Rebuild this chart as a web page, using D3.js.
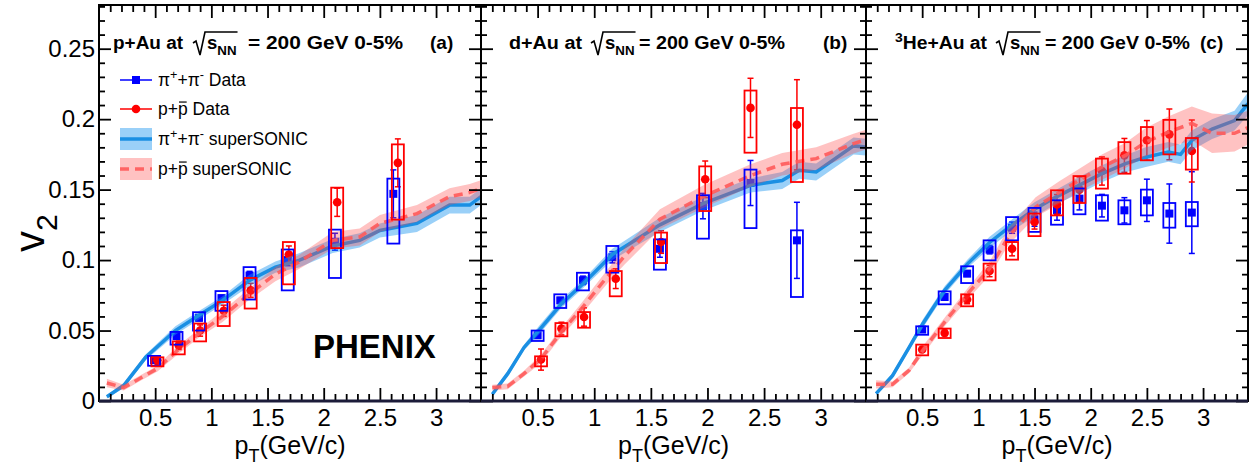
<!DOCTYPE html>
<html>
<head>
<meta charset="utf-8">
<script src="https://cdn.jsdelivr.net/npm/d3@7"></script>
<style>
  body { margin: 0; background: #fff; }
  text { font-family: "Liberation Sans", Arial, Helvetica, sans-serif; fill: #000; }
</style>
</head>
<body>
<div id="chart"></div>
<script>
// ---- data ----
const panelSystems = ["p+Au at", "d+Au at", "He+Au at"];
const panelTags = ["(a)", "(b)", "(c)"];
const xTickLabels = ["0.5", "1", "1.5", "2", "2.5", "3"];
const yTickLabels = ["0", "0.05", "0.1", "0.15", "0.2", "0.25"];

// (a) p+Au
const aPiPt = [0.49, 0.69, 0.89, 1.09, 1.34, 1.68, 2.10, 2.62];
const aPiV2 = [0.029, 0.046, 0.059, 0.073, 0.089, 0.100, 0.113, 0.147];
const aPiStat = [0.002, 0.002, 0.002, 0.002, 0.003, 0.004, 0.006, 0.017];
const aPiSysLo = [0.025, 0.040, 0.050, 0.064, 0.072, 0.0785, 0.0873, 0.1117];
const aPiSysHi = [0.032, 0.049, 0.063, 0.078, 0.095, 0.1075, 0.1216, 0.1578];
const aPPt = [0.52, 0.71, 0.90, 1.11, 1.35, 1.69, 2.12, 2.66];
const aPV2 = [0.029, 0.0395, 0.050, 0.064, 0.0785, 0.104, 0.141, 0.169];
const aPStat = [0.003, 0.003, 0.004, 0.004, 0.005, 0.006, 0.010, 0.017];
const aPSysLo = [0.0246, 0.0331, 0.0423, 0.0532, 0.0656, 0.0828, 0.1085, 0.1287];
const aPSysHi = [0.031, 0.0423, 0.055, 0.0702, 0.0873, 0.1128, 0.1514, 0.1821];
const aThPiPt = [0.07, 0.22, 0.415, 0.68, 0.89, 1.10, 1.34, 1.57, 1.78, 2.08, 2.32, 2.50, 2.83, 3.12, 3.30, 3.40];
const aThPiV2 = [0.003, 0.011, 0.031, 0.050, 0.0608, 0.0714, 0.0856, 0.095, 0.0998, 0.110, 0.114, 0.121, 0.126, 0.139, 0.139, 0.145];
const aThPiErr = [0.001, 0.002, 0.002, 0.003, 0.003, 0.003, 0.004, 0.004, 0.005, 0.005, 0.005, 0.005, 0.006, 0.006, 0.006, 0.006];
const aThPPt = [0.07, 0.22, 0.385, 0.52, 0.70, 0.89, 1.10, 1.34, 1.57, 1.78, 2.08, 2.32, 2.50, 2.83, 3.12, 3.30, 3.40];
const aThPV2 = [0.0128, 0.0095, 0.017, 0.023, 0.036, 0.048, 0.060, 0.076, 0.090, 0.0986, 0.114, 0.1164, 0.126, 0.133, 0.145, 0.148, 0.1507];
const aThPErr = [0.003, 0.002, 0.002, 0.002, 0.003, 0.003, 0.004, 0.004, 0.005, 0.005, 0.006, 0.006, 0.006, 0.006, 0.006, 0.006, 0.006];

// (b) d+Au
const bPiPt = [0.50, 0.70, 0.90, 1.16, 1.58, 1.96, 2.38, 2.79];
const bPiV2 = [0.0466, 0.0714, 0.0856, 0.102, 0.108, 0.1383, 0.1547, 0.114];
const bPiStat = [0.002, 0.002, 0.003, 0.004, 0.006, 0.009, 0.016, 0.027];
const bPiSysLo = [0.0426, 0.066, 0.0785, 0.0911, 0.0932, 0.1152, 0.1227, 0.0738];
const bPiSysHi = [0.050, 0.0757, 0.091, 0.110, 0.1147, 0.146, 0.1642, 0.1211];
const bPPt = [0.53, 0.71, 0.91, 1.19, 1.59, 1.98, 2.38, 2.79];
const bPV2 = [0.0294, 0.0514, 0.0596, 0.0868, 0.1128, 0.1573, 0.208, 0.196];
const bPStat = [0.0075, 0.0045, 0.0065, 0.007, 0.008, 0.013, 0.021, 0.032];
const bPSysLo = [0.0246, 0.0459, 0.052, 0.0743, 0.0979, 0.1348, 0.1762, 0.1554];
const bPSysHi = [0.0317, 0.0553, 0.0631, 0.0922, 0.1195, 0.1665, 0.2203, 0.2079];
const bThPiPt = [0.10, 0.236, 0.38, 0.51, 0.71, 0.90, 1.16, 1.58, 1.96, 2.38, 2.66, 2.81, 2.96, 3.29, 3.42];
const bThPiV2 = [0.0048, 0.0194, 0.038, 0.050, 0.069, 0.083, 0.104, 0.125, 0.140, 0.153, 0.1565, 0.1637, 0.1625, 0.181, 0.180];
const bThPiErr = [0.001, 0.002, 0.002, 0.003, 0.003, 0.003, 0.004, 0.005, 0.005, 0.005, 0.006, 0.006, 0.006, 0.006, 0.006];
const bThPPt = [0.10, 0.236, 0.38, 0.53, 0.71, 0.90, 1.16, 1.27, 1.58, 1.96, 2.38, 2.66, 2.96, 3.29, 3.42];
const bThPV2 = [0.0095, 0.0104, 0.0194, 0.030, 0.049, 0.0667, 0.0927, 0.103, 0.129, 0.145, 0.160, 0.168, 0.172, 0.1826, 0.186];
const bThPErr = [0.002, 0.002, 0.002, 0.003, 0.003, 0.004, 0.005, 0.006, 0.007, 0.008, 0.008, 0.008, 0.008, 0.007, 0.007];

// (c) 3He+Au
const cPiPt = [0.5, 0.7, 0.9, 1.1, 1.3, 1.5, 1.7, 1.9, 2.1, 2.3, 2.5, 2.7, 2.9];
const cPiV2 = [0.0507, 0.0738, 0.0904, 0.1074, 0.123, 0.129, 0.1353, 0.1436, 0.1386, 0.1353, 0.1424, 0.133, 0.1337];
const cPiStat = [0.0015, 0.002, 0.002, 0.003, 0.004, 0.005, 0.007, 0.008, 0.008, 0.009, 0.015, 0.021, 0.029];
const cPiSysLo = [0.047, 0.0686, 0.0837, 0.0998, 0.114, 0.120, 0.1251, 0.1325, 0.128, 0.1254, 0.1317, 0.123, 0.124];
const cPiSysHi = [0.053, 0.0778, 0.0956, 0.114, 0.1305, 0.137, 0.1424, 0.1508, 0.146, 0.1424, 0.150, 0.1405, 0.1412];
const cPPt = [0.5, 0.7, 0.9, 1.1, 1.3, 1.5, 1.7, 1.9, 2.1, 2.3, 2.5, 2.7, 2.9];
const cPV2 = [0.0365, 0.0483, 0.072, 0.0922, 0.108, 0.127, 0.1395, 0.150, 0.1632, 0.1743, 0.185, 0.1892, 0.1774];
const cPStat = [0.0015, 0.002, 0.003, 0.004, 0.005, 0.005, 0.007, 0.009, 0.010, 0.012, 0.014, 0.018, 0.022];
const cPSysLo = [0.0324, 0.0447, 0.0672, 0.0856, 0.1003, 0.117, 0.1317, 0.1405, 0.1507, 0.1613, 0.1708, 0.175, 0.1642];
const cPSysHi = [0.040, 0.0514, 0.0757, 0.0975, 0.1128, 0.133, 0.1495, 0.1596, 0.172, 0.1837, 0.1944, 0.1995, 0.1866];
const cThPiPt = [0.09, 0.236, 0.384, 0.507, 0.70, 0.906, 1.10, 1.275, 1.50, 1.69, 1.895, 2.10, 2.31, 2.49, 2.69, 2.80, 2.90, 3.08, 3.28, 3.40];
const cThPiV2 = [0.0052, 0.018, 0.038, 0.055, 0.0785, 0.0975, 0.1125, 0.1234, 0.136, 0.1447, 0.153, 0.1613, 0.1684, 0.173, 0.1767, 0.175, 0.185, 0.193, 0.199, 0.211];
const cThPiErr = [0.001, 0.002, 0.002, 0.003, 0.003, 0.003, 0.004, 0.004, 0.005, 0.005, 0.006, 0.006, 0.006, 0.007, 0.007, 0.007, 0.007, 0.007, 0.007, 0.008];
const cThPPt = [0.09, 0.236, 0.384, 0.507, 0.70, 0.906, 1.10, 1.27, 1.51, 1.72, 1.895, 2.10, 2.31, 2.49, 2.69, 2.90, 3.08, 3.28, 3.40];
const cThPV2 = [0.0118, 0.0118, 0.0218, 0.036, 0.056, 0.0762, 0.094, 0.117, 0.1376, 0.148, 0.1566, 0.166, 0.1743, 0.1837, 0.1908, 0.197, 0.190, 0.190, 0.194];
const cThPErr = [0.003, 0.002, 0.002, 0.003, 0.003, 0.004, 0.005, 0.006, 0.007, 0.008, 0.008, 0.009, 0.009, 0.010, 0.011, 0.012, 0.014, 0.013, 0.012];

// ---- build tables ----
const zipData = (pt, v, st, lo, hi) => pt.map((x, i) => ({ x, v: v[i], st: st[i], lo: lo[i], hi: hi[i] }));
const zipTh = (pt, v, e) => pt.map((x, i) => ({ x, v: v[i], e: e[i] }));

const panels = [
  { pi: zipData(aPiPt, aPiV2, aPiStat, aPiSysLo, aPiSysHi), p: zipData(aPPt, aPV2, aPStat, aPSysLo, aPSysHi),
    thPi: zipTh(aThPiPt, aThPiV2, aThPiErr), thP: zipTh(aThPPt, aThPV2, aThPErr) },
  { pi: zipData(bPiPt, bPiV2, bPiStat, bPiSysLo, bPiSysHi), p: zipData(bPPt, bPV2, bPStat, bPSysLo, bPSysHi),
    thPi: zipTh(bThPiPt, bThPiV2, bThPiErr), thP: zipTh(bThPPt, bThPV2, bThPErr) },
  { pi: zipData(cPiPt, cPiV2, cPiStat, cPiSysLo, cPiSysHi), p: zipData(cPPt, cPV2, cPStat, cPSysLo, cPSysHi),
    thPi: zipTh(cThPiPt, cThPiV2, cThPiErr), thP: zipTh(cThPPt, cThPV2, cThPErr) }
];

// ---- layout ----
const width = 1250, height = 473;
const panelLeft = [99, 481, 866];
const panelRight = [481, 866, 1248];
const plotTop = 5, plotBottom = 401;
const titleX = [113, 509, 895];
const titleHeadW = [70, 73, 92];
const titleSX = [207, 605, 1010];
const titleTailX = [248, 639, 1045];
const titleTailW = [155, 146, 145];
const tagX = [430, 823, 1200];

const BLUE = "#0000ff", RED = "#ff0000";
const LINE_BLUE = "#1a8fe3";
const BAND_BLUE = "rgba(30,150,240,0.45)";
const BAND_RED = "rgba(255,70,70,0.33)";
const LINE_RED = "rgba(255,90,90,0.9)";

const svg = d3.select("#chart").append("svg")
  .attr("width", width).attr("height", height);

const y = d3.scaleLinear().domain([0, 0.281]).range([plotBottom, plotTop]);

// rich text with sub/superscripts and overlines
function rich(sel, x, y0, segs, size, weight, anchor) {
  const t = sel.append("text").attr("x", x).attr("y", y0)
    .attr("font-size", size).attr("font-weight", weight || "normal")
    .attr("text-anchor", anchor || "start");
  let shift = 0, idx = 0;
  segs.forEach(s => {
    const target = s.sub ? 0.3 * size : s.sup ? -0.4 * size : 0;
    const ts = t.append("tspan").attr("dy", target - shift).text(s.t);
    if (s.sub || s.sup) ts.attr("font-size", size * 0.72);
    if (s.dx) ts.attr("dx", s.dx);
    s.i0 = idx; idx += s.t.length; s.i1 = idx - 1;
    shift = target;
  });
  const node = t.node();
  segs.forEach(s => {
    if (s.over) {
      const xa = node.getStartPositionOfChar(s.i0).x, xb = node.getEndPositionOfChar(s.i1).x;
      sel.append("line").attr("x1", xa + 1).attr("x2", xb - 1)
        .attr("y1", y0 - 0.74 * size).attr("y2", y0 - 0.74 * size)
        .attr("stroke", "#000").attr("stroke-width", 1.2);
    }
  });
  return t;
}

panels.forEach((pd, k) => {
  const x = d3.scaleLinear().domain([0, 3.4]).range([panelLeft[k], panelRight[k]]);
  const g = svg.append("g");

  const clipId = "clip" + k;
  svg.append("clipPath").attr("id", clipId).append("rect")
    .attr("x", panelLeft[k]).attr("y", plotTop)
    .attr("width", panelRight[k] - panelLeft[k]).attr("height", plotBottom - plotTop);
  const plot = g.append("g").attr("clip-path", `url(#${clipId})`);

  // statistical error bars and markers
  [[pd.pi, BLUE, "sq"], [pd.p, RED, "ci"]].forEach(([ds, col, shape]) => {
    const eg = plot.append("g").attr("stroke", col).attr("stroke-width", 1.5);
    ds.forEach(d => {
      const cx = x(d.x);
      eg.append("line").attr("x1", cx).attr("x2", cx).attr("y1", y(d.v - d.st)).attr("y2", y(d.v + d.st));
      [d.v - d.st, d.v + d.st].forEach(vv =>
        eg.append("line").attr("x1", cx - 3).attr("x2", cx + 3).attr("y1", y(vv)).attr("y2", y(vv)));
    });
    if (shape === "sq") {
      plot.append("g").selectAll("rect").data(ds).join("rect")
        .attr("x", d => x(d.x) - 4).attr("y", d => y(d.v) - 4)
        .attr("width", 8).attr("height", 8).attr("fill", col);
    } else {
      plot.append("g").selectAll("circle").data(ds).join("circle")
        .attr("cx", d => x(d.x)).attr("cy", d => y(d.v)).attr("r", 4.3).attr("fill", col);
    }
  });

  // superSONIC bands and lines
  const area = d3.area().x(d => x(d.x)).y0(d => y(d.v - d.e)).y1(d => y(d.v + d.e));
  const line = d3.line().x(d => x(d.x)).y(d => y(d.v));
  plot.append("path").datum(pd.thPi).attr("d", area).attr("fill", BAND_BLUE);
  plot.append("path").datum(pd.thPi).attr("d", line)
    .attr("fill", "none").attr("stroke", LINE_BLUE).attr("stroke-width", 3.5);
  plot.append("path").datum(pd.thP).attr("d", area).attr("fill", BAND_RED);
  plot.append("path").datum(pd.thP).attr("d", line)
    .attr("fill", "none").attr("stroke", LINE_RED).attr("stroke-width", 3.5)
    .attr("stroke-dasharray", "9,6");

  // systematic boxes
  [[pd.pi, BLUE], [pd.p, RED]].forEach(([ds, col]) => {
    plot.append("g").selectAll("rect").data(ds).join("rect")
      .attr("x", d => x(d.x) - 6).attr("y", d => y(d.hi))
      .attr("width", 12).attr("height", d => y(d.lo) - y(d.hi))
      .attr("fill", "none").attr("stroke", col).attr("stroke-width", 1.8);
  });

  // axes: inward ticks on all four sides
  const xMajor = [0.5, 1, 1.5, 2, 2.5, 3];
  const xMinor = d3.range(1, 34).map(v => v / 10).filter(v => Math.abs(v * 2 - Math.round(v * 2)) > 1e-6);
  const yMajor = [0, 0.05, 0.1, 0.15, 0.2, 0.25];
  const yMinor = d3.range(1, 29).map(v => v / 100).filter(v => Math.round(v * 100) % 5 !== 0);

  const axG = g.append("g");
  axG.append("g").attr("transform", `translate(0,${plotBottom})`)
    .call(d3.axisBottom(x).tickValues(xMajor).tickSize(-13).tickSizeOuter(0).tickPadding(8)
      .tickFormat((d, i) => xTickLabels[i]));
  axG.append("g").attr("transform", `translate(0,${plotBottom})`)
    .call(d3.axisBottom(x).tickValues(xMinor).tickSize(-7).tickSizeOuter(0).tickFormat(""));
  axG.append("g").attr("transform", `translate(0,${plotTop})`)
    .call(d3.axisTop(x).tickValues(xMajor).tickSize(-13).tickSizeOuter(0).tickFormat(""));
  axG.append("g").attr("transform", `translate(0,${plotTop})`)
    .call(d3.axisTop(x).tickValues(xMinor).tickSize(-7).tickSizeOuter(0).tickFormat(""));
  axG.append("g").attr("transform", `translate(${panelLeft[k]},0)`)
    .call(d3.axisLeft(y).tickValues(yMajor).tickSize(-12).tickSizeOuter(0).tickPadding(4)
      .tickFormat((d, i) => k === 0 ? yTickLabels[i] : ""));
  axG.append("g").attr("transform", `translate(${panelLeft[k]},0)`)
    .call(d3.axisLeft(y).tickValues(yMinor).tickSize(-6).tickSizeOuter(0).tickFormat(""));
  axG.append("g").attr("transform", `translate(${panelRight[k]},0)`)
    .call(d3.axisRight(y).tickValues(yMajor).tickSize(-12).tickSizeOuter(0).tickFormat(""));
  axG.append("g").attr("transform", `translate(${panelRight[k]},0)`)
    .call(d3.axisRight(y).tickValues(yMinor).tickSize(-6).tickSizeOuter(0).tickFormat(""));
  axG.selectAll(".domain").remove();
  axG.selectAll(".tick line").attr("stroke", "#000").attr("stroke-width", 1.8);
  axG.selectAll(".tick text").attr("font-family", "'Liberation Sans', Arial, sans-serif")
    .attr("font-size", 24).attr("fill", "#000");

  // frame
  g.append("rect").attr("x", panelLeft[k]).attr("y", plotTop)
    .attr("width", panelRight[k] - panelLeft[k]).attr("height", plotBottom - plotTop)
    .attr("fill", "none").attr("stroke", "#000").attr("stroke-width", 2);
  g.append("line").attr("x1", panelLeft[k]).attr("x2", panelRight[k])
    .attr("y1", plotBottom).attr("y2", plotBottom).attr("stroke", "#1c1c3a").attr("stroke-width", 3);

  // title: head, radical with s_NN, tail, tag
  const head = [];
  if (k === 2) head.push({ t: "3", sup: true });
  head.push({ t: panelSystems[k] });
  rich(g, titleX[k], 49, head, 18, "bold").attr("textLength", titleHeadW[k]).attr("lengthAdjust", "spacingAndGlyphs");
  const sx = titleSX[k];
  const snn = rich(g, sx, 49, [{ t: "s" }, { t: "NN", sub: true }], 18.5, "bold");
  const xe = sx + snn.node().getComputedTextLength();
  g.append("path")
    .attr("d", `M${sx - 14},${43} L${sx - 11},${41} L${sx - 7},${55} L${sx - 2},${32} H${xe + 1}`)
    .attr("fill", "none").attr("stroke", "#000").attr("stroke-width", 1.6);
  g.append("text").attr("x", titleTailX[k]).attr("y", 49).attr("font-size", 19)
    .attr("font-weight", "bold").attr("textLength", titleTailW[k]).attr("lengthAdjust", "spacingAndGlyphs")
    .text("= 200 GeV 0-5%");
  g.append("text").attr("x", tagX[k]).attr("y", 49).attr("font-size", 19)
    .attr("font-weight", "bold").text(panelTags[k]);

  // x-axis title
  rich(g, (panelLeft[k] + panelRight[k]) / 2, 454,
    [{ t: "p" }, { t: "T", sub: true }, { t: "(GeV/c)" }], 25, "normal", "middle");
});

// y-axis title
const yt = svg.append("g").attr("transform", "translate(44,252) rotate(-90)");
rich(yt, 0, 0, [{ t: "v" }, { t: "2", sub: true }], 42, "normal");

// PHENIX label
svg.append("text").attr("x", 313).attr("y", 358).attr("font-size", 33)
  .attr("font-weight", "bold").text("PHENIX");

// legend in panel (a)
const lg = svg.append("g");
const lx0 = 120, lx1 = 152, ltx = 158;
const rows = [80, 109, 139, 169];
lg.append("line").attr("x1", lx0).attr("x2", lx1).attr("y1", rows[0]).attr("y2", rows[0])
  .attr("stroke", BLUE).attr("stroke-width", 1.5);
lg.append("rect").attr("x", 132).attr("y", rows[0] - 4).attr("width", 8).attr("height", 8).attr("fill", BLUE);
lg.append("line").attr("x1", lx0).attr("x2", lx1).attr("y1", rows[1]).attr("y2", rows[1])
  .attr("stroke", RED).attr("stroke-width", 1.5);
lg.append("circle").attr("cx", 136).attr("cy", rows[1]).attr("r", 4.3).attr("fill", RED);
lg.append("rect").attr("x", lx0).attr("y", rows[2] - 11).attr("width", lx1 - lx0).attr("height", 22).attr("fill", BAND_BLUE);
lg.append("line").attr("x1", lx0).attr("x2", lx1).attr("y1", rows[2]).attr("y2", rows[2])
  .attr("stroke", LINE_BLUE).attr("stroke-width", 3.5);
lg.append("rect").attr("x", lx0).attr("y", rows[3] - 11).attr("width", lx1 - lx0).attr("height", 22).attr("fill", BAND_RED);
lg.append("line").attr("x1", lx0).attr("x2", lx1).attr("y1", rows[3]).attr("y2", rows[3])
  .attr("stroke", LINE_RED).attr("stroke-width", 3.5).attr("stroke-dasharray", "9,6");

const piLabel = s => [{ t: "π" }, { t: "+", sup: true }, { t: "+π" }, { t: "-", sup: true }, { t: s }];
const pLabel = s => [{ t: "p+" }, { t: "p", over: true }, { t: s }];
rich(lg, ltx, rows[0] + 6, piLabel(" Data"), 17.5);
rich(lg, ltx, rows[1] + 6, pLabel(" Data"), 17.5);
rich(lg, ltx, rows[2] + 6, piLabel(" superSONIC"), 17.5);
rich(lg, ltx, rows[3] + 6, pLabel(" superSONIC"), 17.5);
</script>
</body>
</html>
